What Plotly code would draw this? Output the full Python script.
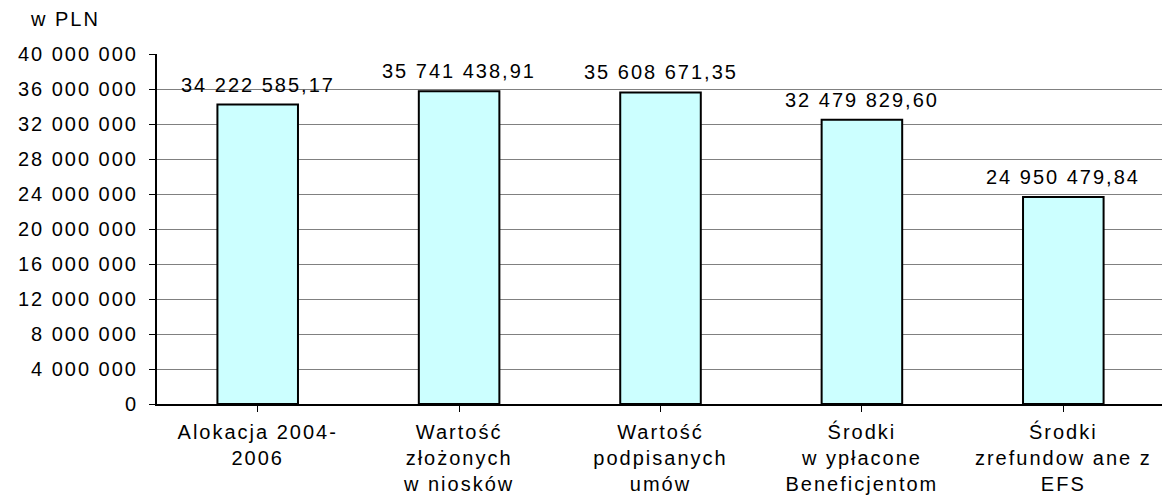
import plotly.graph_objects as go

categories = [
    "Alokacja 2004-<br>2006",
    "Wartość<br>złożonych<br>w niosków",
    "Wartość<br>podpisanych<br>umów",
    "Środki<br>w ypłacone<br>Beneficjentom",
    "Środki<br>zrefundow ane z<br>EFS",
]
bar_values = [34222585.17, 35741438.91, 35608671.35, 32479829.60, 23650000.00]
label_texts = ["34 222 585,17", "35 741 438,91", "35 608 671,35", "32 479 829,60", "24 950 479,84"]
y_ticks = [0, 4e6, 8e6, 12e6, 16e6, 20e6, 24e6, 28e6, 32e6, 36e6, 40e6]
y_tick_labels = ["0", "4 000 000", "8 000 000", "12 000 000", "16 000 000", "20 000 000",
                 "24 000 000", "28 000 000", "32 000 000", "36 000 000", "40 000 000"]
unit_label = "w PLN"

FONT = "Liberation Sans, Arial, sans-serif"
FS = 20

fig = go.Figure()
fig.add_trace(go.Bar(
    x=list(range(len(categories))),
    y=bar_values,
    marker=dict(color="#CCFFFF", line=dict(color="#000000", width=2)),
    hoverinfo="skip",
))

for i, (v, t) in enumerate(zip(bar_values, label_texts)):
    fig.add_annotation(x=i, y=v, text=t, showarrow=False, yanchor="bottom",
                       yshift=7, font=dict(family=FONT, size=FS, color="#000000"))

fig.add_annotation(xref="paper", yref="paper",
                   x=(65 - 157) / (1162 - 157), y=(404 - 19) / (404 - 54),
                   xanchor="center", yanchor="middle", text=unit_label,
                   showarrow=False, font=dict(family=FONT, size=FS, color="#000000"))

fig.update_layout(
    width=1162, height=501,
    margin=dict(l=157, r=0, t=54, b=97),
    paper_bgcolor="white", plot_bgcolor="white",
    bargap=0.6,
    showlegend=False,
    font=dict(family=FONT, size=FS, color="#000000"),
    xaxis=dict(
        tickmode="array", tickvals=list(range(len(categories))), ticktext=categories,
        range=[-0.5, 4.49], showgrid=False, zeroline=False,
        showline=True, linecolor="#000000", linewidth=2,
        ticks="outside", ticklen=6, tickcolor="#000000", tickson="boundaries",
        tickfont=dict(family=FONT, size=FS, color="#000000"),
        ticklabelstandoff=3,
    ),
    yaxis=dict(
        range=[0, 40e6], tickmode="array", tickvals=y_ticks, ticktext=y_tick_labels,
        showgrid=True, gridcolor="#808080", gridwidth=1, zeroline=False,
        showline=True, linecolor="#000000", linewidth=2,
        ticks="outside", ticklen=6, tickcolor="#000000",
        tickfont=dict(family=FONT, size=FS, color="#000000"),
        ticklabelstandoff=7,
    ),
)

post = """
document.body.style.margin = '0';
document.querySelectorAll('svg text').forEach(function(t){ t.style.letterSpacing = '2px'; });
"""

fig.write_html("out.html", post_script=post, config={"displayModeBar": False})
